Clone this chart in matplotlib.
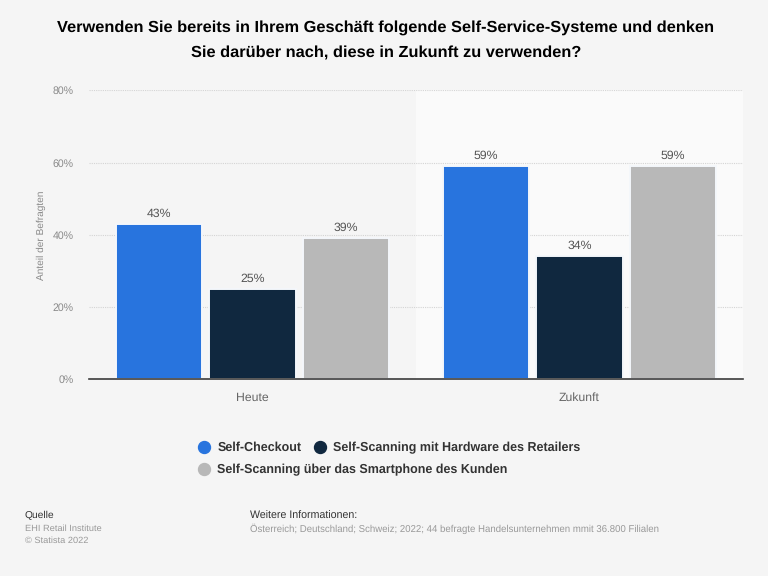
import matplotlib
matplotlib.use('Agg')
import matplotlib.pyplot as plt
from matplotlib.lines import Line2D
import numpy as np

plt.rcParams['font.family'] = ['Liberation Sans', 'DejaVu Sans']
plt.rcParams['text.hinting'] = 'no_hinting'

categories = ['Heute', 'Zukunft']
series_names = ['Self-Checkout', 'Self-Scanning mit Hardware des Retailers',
                'Self-Scanning über das Smartphone des Kunden']
checkout = [43, 59]
hardware = [25, 34]
smartphone = [39, 59]
y_ticks = [0, 20, 40, 60, 80]
colors = ['#2874de', '#10283f', '#b8b8b8']

W, H = 768, 576
BG = '#f5f5f5'

fig = plt.figure(figsize=(7.68, 5.76), dpi=100, facecolor=BG)
ax = fig.add_axes([89 / W, 1 - 379.3 / H, 654 / W, 289 / H], facecolor=BG)

x = np.arange(len(categories))
width = 0.2655
offsets = [-0.286, 0, 0.286]

ax.axvspan(0.5, 1.5, facecolor='#fafafa', edgecolor='none', zorder=0)
ax.yaxis.grid(True, color='#d4d4d4', linestyle=(0, (1, 1)), linewidth=0.8, zorder=1)
ax.set_axisbelow(True)

for vals, off, col in zip([checkout, hardware, smartphone], offsets, colors):
    bars = ax.bar(x + off, vals, width, color=col, edgecolor='#f4f7fb', linewidth=1.4, zorder=2)
    for b, v in zip(bars, vals):
        ax.annotate('%d%%' % v, (b.get_x() + b.get_width() / 2, v), xytext=(0, 3.4),
                    textcoords='offset points', ha='center', va='bottom',
                    fontsize=8.8, color='#555555')

ax.set_xlim(-0.5, 1.5)
ax.set_ylim(0, 80)
ax.set_xticks(x)
ax.set_xticklabels(categories, fontsize=8.8, color='#666666')
ax.set_yticks(y_ticks)
ax.set_yticklabels(['%d%%' % t for t in y_ticks], fontsize=7.6, color='#8a8a8a')
ax.tick_params(axis='both', length=0)
ax.tick_params(axis='x', pad=9)
ax.tick_params(axis='y', pad=11)
ax.set_ylabel('Anteil der Befragten', fontsize=7.3, color='#8a8a8a', labelpad=5)

for s in ['top', 'right', 'left']:
    ax.spines[s].set_visible(False)
ax.spines['bottom'].set_color('#3c3c3c')
ax.spines['bottom'].set_linewidth(1.2)
ax.spines['bottom'].set_zorder(5)

fig.text(386 / W, 1 - 27.5 / H, 'Verwenden Sie bereits in Ihrem Geschäft folgende Self-Service-Systeme und denken',
         ha='center', va='center', fontsize=11.8, fontweight='bold', color='#000000')
fig.text(386 / W, 1 - 53.5 / H, 'Sie darüber nach, diese in Zukunft zu verwenden?',
         ha='center', va='center', fontsize=11.8, fontweight='bold', color='#000000')

# legend in two rows of different widths, so two legends
handles = [Line2D([], [], linestyle='none', marker='o', markersize=8.6, color=c) for c in colors]
kw = dict(frameon=False, prop={'size': 9.0, 'weight': 'bold'}, labelcolor='#333333',
          handletextpad=0.28, loc='center left', bbox_transform=fig.transFigure,
          borderpad=0, borderaxespad=0, handlelength=1.5)
leg1 = fig.legend(handles[:2], series_names[:2], ncol=2, columnspacing=0.72,
                  bbox_to_anchor=(195 / W, 1 - 448 / H), **kw)
leg2 = fig.legend(handles[2:], series_names[2:], bbox_to_anchor=(195 / W, 1 - 470 / H), **kw)

fig.text(25 / W, 1 - 516 / H, 'Quelle', ha='left', va='center', fontsize=7.4, color='#333333')
fig.text(25 / W, 1 - 528.5 / H, 'EHI Retail Institute', ha='left', va='center', fontsize=6.7, color='#999999')
fig.text(25 / W, 1 - 540.5 / H, '© Statista 2022', ha='left', va='center', fontsize=6.7, color='#999999')
fig.text(250 / W, 1 - 516 / H, 'Weitere Informationen:', ha='left', va='center', fontsize=7.7, color='#333333')
fig.text(250 / W, 1 - 528.5 / H, 'Österreich; Deutschland; Schweiz; 2022; 44 befragte Handelsunternehmen mmit 36.800 Filialen',
         ha='left', va='center', fontsize=6.95, color='#999999')

fig.savefig('out.png', dpi=100, facecolor=BG)
